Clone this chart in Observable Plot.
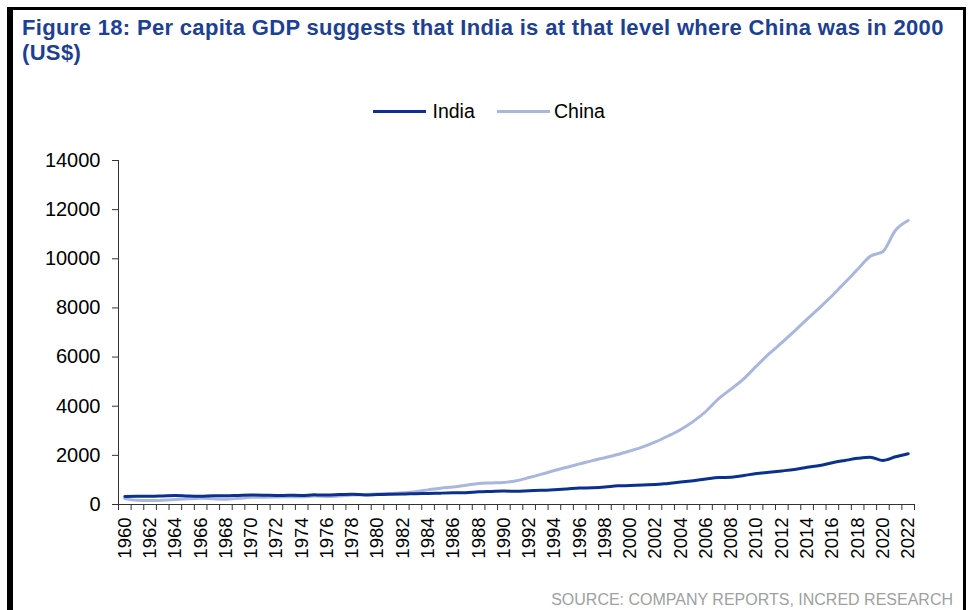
<!DOCTYPE html>
<html><head><meta charset="utf-8">
<script src="https://cdn.jsdelivr.net/npm/d3@7"></script>
<script src="https://cdn.jsdelivr.net/npm/@observablehq/plot@0.6"></script>
<style>
body{margin:0;background:#fff;}
#wrap{position:relative;width:971px;height:610px;overflow:hidden;background:#fff;font-family:"Liberation Sans",Arial,Helvetica,sans-serif;}
.bar{position:absolute;background:#000;}
.tl{position:absolute;left:22px;height:22px;font-weight:bold;font-size:22px;letter-spacing:0.33px;line-height:22px;color:#1d3f94;white-space:nowrap;}
.leg{position:absolute;top:100.5px;font-size:19.5px;line-height:20px;color:#000;}
.sw{position:absolute;height:3px;top:110px;}
#source{position:absolute;right:18px;top:591.5px;font-size:16px;line-height:16px;color:#a0a0a0;white-space:nowrap;}
#chart{position:absolute;left:0;top:140px;}
</style></head>
<body>
<div id="wrap">
  <div class="bar" style="left:7px;top:7px;width:6px;height:603px"></div>
  <div class="bar" style="left:7px;top:7px;width:959px;height:3px"></div>
  <div class="bar" style="left:962.5px;top:7px;width:3px;height:603px"></div>
  <div id="title"></div>
  <div id="legend"></div>
  <div id="chart"></div>
  <div id="source"></div>
</div>
<script>
const titleLines = ["Figure 18: Per capita GDP suggests that India is at that level where China was in 2000", "(US$)"];
const sourceText = "SOURCE: COMPANY REPORTS, INCRED RESEARCH";
const seriesNames = ["India", "China"];
const seriesColors = ["#0b318f", "#a9b6dd"];

const years = d3.range(1960, 2023);
const india = [330,337,337,347,362,343,335,353,356,371,383,380,369,373,369,392,389,405,419,390,
  404,420,424,442,449,462,474,483,515,531,547,540,559,575,602,634,668,683,712,759,
  773,796,810,859,912,970,1034,1094,1111,1180,1263,1313,1367,1428,1515,1590,1700,1792,1878,1926,
  1794,1941,2065];
const china = [239,172,162,176,203,232,252,231,218,251,293,298,302,320,320,341,330,349,384,407,
  432,448,480,524,595,664,713,783,856,877,899,970,1096,1235,1382,1518,1652,1786,1905,2033,
  2185,2348,2547,2788,3053,3384,3795,4311,4704,5124,5639,6137,6586,7059,7543,8016,8508,9034,9572,10102,
  10297,11163,11560];
const yTicks = [0,2000,4000,6000,8000,10000,12000,14000];
const xLabelYears = d3.range(1960, 2023, 2);

const titleEl = document.getElementById("title");
titleLines.forEach((t,i)=>{
  const d = document.createElement("div");
  d.className = "tl"; d.style.top = (16.9 + i*24.8) + "px"; d.textContent = t;
  titleEl.appendChild(d);
});
document.getElementById("source").textContent = sourceText;

// legend
const legend = document.getElementById("legend");
const legPos = [{sw:373, tx:432.5}, {sw:496.5, tx:554}];
seriesNames.forEach((n,i)=>{
  const s = document.createElement("div");
  s.className = "sw"; s.style.left = legPos[i].sw + "px"; s.style.width = "53px"; s.style.background = seriesColors[i];
  legend.appendChild(s);
  const t = document.createElement("div");
  t.className = "leg"; t.style.left = legPos[i].tx + "px"; t.textContent = n;
  legend.appendChild(t);
});

const data = [];
years.forEach((y,i)=>{ data.push({year:y, series:"China", value:china[i]}); });
years.forEach((y,i)=>{ data.push({year:y, series:"India", value:india[i]}); });

const halfTicks = d3.range(1959.5, 2023, 1);

const chart = Plot.plot({
  width: 971, height: 440,
  marginTop: 20, marginBottom: 76, marginLeft: 118, marginRight: 57,
  style: {fontFamily: '"Liberation Sans", Arial, sans-serif', color: "#000", background: "transparent"},
  x: {domain: [1959.5, 2022.5], axis: null},
  y: {domain: [0, 14000], axis: null},
  color: {domain: seriesNames, range: seriesColors},
  marks: [
    Plot.axisY({ticks: yTicks, tickSize: 6, tickPadding: 12, fontSize: 20, tickFormat: d => String(d), stroke: "#333", label: null}),
    Plot.axisX({ticks: halfTicks, tickSize: 6, tickFormat: () => "", stroke: "#333", label: null}),
    Plot.axisX({ticks: xLabelYears, tickSize: 0, tickPadding: 13, tickRotate: -90, fontSize: 18.5, tickFormat: d => String(d), label: null}),
    Plot.ruleX([1959.5], {y1: 0, y2: 14000, stroke: "#333"}),
    Plot.ruleY([0], {stroke: "#333"}),
    Plot.line(data, {x: "year", y: "value", stroke: "series", z: "series", strokeWidth: 3, curve: "monotone-x"})
  ]
});
document.getElementById("chart").appendChild(chart);
</script>
</body></html>
